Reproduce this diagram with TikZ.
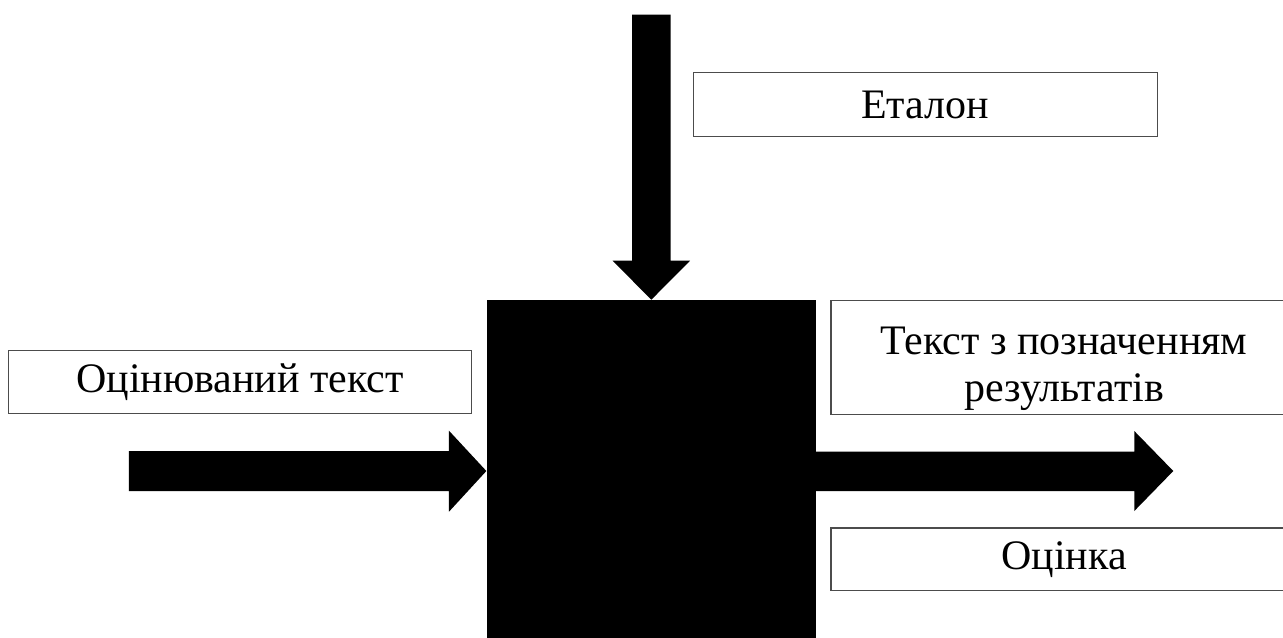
\documentclass[tikz,border=0pt]{standalone}
\usepackage{fontspec}
\setmainfont{Liberation Serif}
\begin{document}
\begin{tikzpicture}[x=0.75pt,y=-0.75pt,
  labelbox/.style={draw=black!70,line width=0.8pt,inner sep=0pt,
    font=\fontsize{31.5}{35}\selectfont,align=center},
  block/.style={fill=black,draw=none,inner sep=0pt,minimum width=247pt,minimum height=256.5pt}]
\useasboundingbox (0,0) rectangle (1283,637);
% central block
\node[block] (proc) at (651.3,471) {};
% label boxes
\node[labelbox,minimum width=348pt,minimum height=48pt] (etalon) at (925.3,104.7) {Еталон};
\node[labelbox,minimum width=347.5pt,minimum height=47.1pt] (input) at (240,382.1) {Оцінюваний текст};
\node[labelbox,minimum width=349.5pt,minimum height=85.3pt] (output) at (1064,357.3) {\rule{0pt}{38pt}Текст з позначенням\\результатів};
\node[labelbox,minimum width=349.5pt,minimum height=47pt] (mark) at (1064,559.3) {Оцінка};
% block arrows
\coordinate (outtip) at (1173.3,471);
\fill[black] (proc.north) -- ++(-38.6,-39) -- ++(19.3,0) -- ++(0,-246) -- ++(38.7,0) -- ++(0,246) -- ++(19.3,0) -- cycle;
\fill[black] (proc.west) -- ++(-37.4,-40.3) -- ++(0,20.3) -- ++(-320,0) -- ++(0,40) -- ++(320,0) -- ++(0,20.7) -- cycle;
\fill[black] (outtip) -- ++(-39,-40) -- ++(0,20.7) -- ++(-318.3,0) -- ++(0,39.3) -- ++(318.3,0) -- ++(0,20) -- cycle;
\end{tikzpicture}
\end{document}
